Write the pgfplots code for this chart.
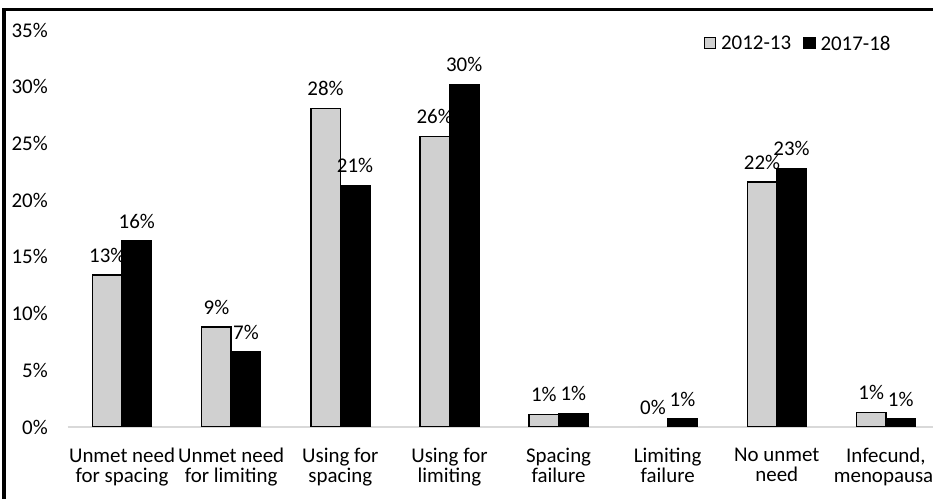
\documentclass[border=0pt]{standalone}
\usepackage{fontspec}
\setmainfont{Carlito}
\usepackage{pgfplots}
\pgfplotsset{compat=1.18}
\definecolor{barlight}{RGB}{208,208,208}
\definecolor{axisgray}{RGB}{217,217,217}
\newcommand{\chartfont}{\fontsize{21}{19.5}\selectfont}

% Shares of women by need status, two survey rounds
\pgfplotstableread{
cat gray black
1 13.4 16.4
2 8.8 6.6
3 28.1 21.3
4 25.6 30.2
5 1.1 1.2
7 21.6 22.8
8 1.3 0.7
}\needdata
\pgfplotstableread{
cat gray black
6 0.0 0.7
}\zerodata

\begin{document}
\chartfont
\begin{tikzpicture}[x=1bp,y=1bp, font=\chartfont]
\useasboundingbox (0,0) rectangle (933,499);
\draw[line width=3.5bp] (4,-20) -- (4,489.5) -- (960,489.5);
\begin{axis}[
  at={(67.5bp,72bp)}, anchor=south west,
  scale only axis, width=873bp, height=397bp,
  xmin=0.5, xmax=8.5, ymin=0, ymax=35,
  axis lines=left,
  x axis line style={-, axisgray, line width=1.3bp},
  y axis line style={draw=none},
  major tick length=0pt,
  major tick style={draw=none},
  tick label style={font=\chartfont},
  ytick={0,5,...,35},
  yticklabel={\pgfmathprintnumber{\tick}\%},
  /pgf/number format/assume math mode=true,
  yticklabel style={anchor=east, inner sep=0pt, xshift=-19.5bp},
  xtick={1,...,8},
  xticklabels={{Unmet need\\for spacing},{Unmet need\\for limiting},
    {Using for\\spacing},{Using for\\limiting},{Spacing\\failure},
    {Limiting\\failure},{No unmet\\need},{Infecund,\\menopausal}},
  xticklabel style={align=center, anchor=north, inner sep=0pt, yshift=-21bp},
  ybar=0pt, bar width=29.5bp,
  nodes near coords={\pgfmathprintnumber[fixed,precision=0]{\pgfplotspointmeta}\%},
  nodes near coords style={font=\chartfont, text=black, inner sep=0pt, anchor=south, yshift=12bp},
  legend style={draw=none, fill=none, at={(0.943,0.967)}, anchor=east,
    font=\chartfont, legend columns=2, inner sep=0pt,
    /tikz/every even column/.append style={column sep=12bp},
    nodes={inner sep=0pt, text depth=0pt}},
  legend image code/.code={\draw[#1] (0bp,-5.5bp) rectangle (11bp,5.5bp);},
]
\addplot[fill=barlight, draw=black, line width=1.4bp, bar shift=-14.75bp]
  table[x=cat, y=gray] {\needdata};
\addlegendentry{\hspace{5bp}2012-13}
\addplot[fill=black, draw=black, line width=1.4bp, bar shift=14.75bp]
  table[x=cat, y=black] {\needdata};
\addlegendentry{\hspace{5bp}2017-18}
\addplot[fill=barlight, draw=none, bar shift=-14.75bp, forget plot]
  table[x=cat, y=gray] {\zerodata};
\addplot[fill=black, draw=black, line width=1.4bp, bar shift=14.75bp, forget plot]
  table[x=cat, y=black] {\zerodata};
\end{axis}
\end{tikzpicture}
\end{document}
